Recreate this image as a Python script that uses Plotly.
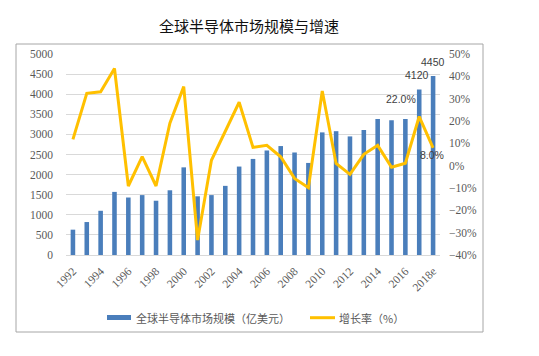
import plotly.graph_objects as go

years = ["1992", "1993", "1994", "1995", "1996", "1997", "1998", "1999", "2000",
         "2001", "2002", "2003", "2004", "2005", "2006", "2007", "2008", "2009",
         "2010", "2011", "2012", "2013", "2014", "2015", "2016", "2017", "2018e"]
market_size = [630, 820, 1100, 1570, 1430, 1490, 1350, 1610, 2180,
               1460, 1490, 1720, 2200, 2390, 2600, 2710, 2550, 2290,
               3050, 3080, 2950, 3110, 3380, 3350, 3380, 4120, 4450]
growth = [11.8, 32.4, 33.1, 43.5, -9.1, 4.0, -9.1, 19.0, 35.4,
          -33.3, 2.4, 15.5, 28.4, 8.2, 9.1, 4.0, -5.7, -9.9,
          33.4, 1.0, -3.9, 5.1, 9.1, -0.7, 1.1, 22.0, 8.0]
tick_years = years[::2]

title_text = "全球半导体市场规模与增速"
bar_name = "全球半导体市场规模（亿美元）"
line_name = "增长率（%）"

# page body has an 8px margin; lay out in viewport pixels and convert
OFF = 8
W, H = 539 - 2 * OFF, 356 - 2 * OFF
PX0, PX1, PY0, PY1 = 66, 440, 54, 255  # plot area in viewport px
L = PX0 - OFF
R = W - (PX1 - OFF)
T = PY0 - OFF
B = H - (PY1 - OFF)
pw, ph = PX1 - PX0, PY1 - PY0


def px(x):
    return (x - PX0) / pw


def py(y):
    return (PY1 - y) / ph


fig = go.Figure()
fig.add_trace(go.Bar(
    x=years, y=market_size, name=bar_name,
    marker=dict(color="#4A7EBB", line=dict(width=0)),
    yaxis="y", showlegend=False,
))
fig.add_trace(go.Scatter(
    x=years, y=growth, name=line_name, mode="lines",
    line=dict(color="#FFC000", width=3),
    yaxis="y2", showlegend=False,
))

label_font = dict(family="Liberation Sans", size=10.5, color="#404040")
i17, i18 = years.index("2017"), years.index("2018e")
for idx, xs, ys in [(i17, -2.4, 14.4), (i18, 0.3, 14.3)]:
    fig.add_annotation(x=idx, y=market_size[idx], xref="x", yref="y",
                       text=str(market_size[idx]), showarrow=False,
                       font=label_font, xshift=xs, yshift=ys)
for idx, xs, ys in [(i17, -18, 17.5), (i18, -1.5, -6.7)]:
    fig.add_annotation(x=idx, y=growth[idx], xref="x", yref="y2",
                       text=f"{growth[idx]:.1f}%", showarrow=False,
                       font=label_font, xshift=xs, yshift=ys)

# title
fig.add_annotation(x=px(248.5), y=py(25), xref="paper", yref="paper",
                   text=title_text, showarrow=False, xanchor="center", yanchor="middle",
                   font=dict(family="Noto Sans CJK SC", size=15, color="#111111"))

# outer border
fig.add_shape(type="rect", xref="paper", yref="paper",
              x0=px(16), x1=px(483), y0=py(332), y1=py(44),
              line=dict(color="#A6A6A6", width=1), fillcolor="rgba(0,0,0,0)", layer="below")

# legend (drawn manually to match swatch shapes)
leg_font = dict(family="Noto Sans CJK SC", size=11, color="#595959")
fig.add_shape(type="rect", xref="paper", yref="paper",
              x0=px(107), x1=px(131), y0=py(320), y1=py(315),
              line=dict(width=0), fillcolor="#4A7EBB")
fig.add_annotation(x=px(134), y=py(318), xref="paper", yref="paper", text=bar_name,
                   showarrow=False, xanchor="left", yanchor="middle", font=leg_font)
fig.add_shape(type="line", xref="paper", yref="paper",
              x0=px(310), x1=px(335), y0=py(317.7), y1=py(317.7),
              line=dict(color="#FFC000", width=3))
fig.add_annotation(x=px(336.5), y=py(318), xref="paper", yref="paper", text=line_name,
                   showarrow=False, xanchor="left", yanchor="middle", font=leg_font)

tick_font = dict(family="Liberation Serif", size=11.5, color="#595959")

fig.update_layout(
    width=W, height=H,
    margin=dict(l=L, r=R, t=T, b=B, pad=0, autoexpand=False),
    paper_bgcolor="white", plot_bgcolor="white",
    bargap=0.67,
    showlegend=False,
    xaxis=dict(type="category", categoryorder="array", categoryarray=years,
               tickvals=tick_years, ticktext=tick_years, tickangle=-45,
               tickfont=tick_font, showgrid=False, showline=True,
               linecolor="#D9D9D9", linewidth=1, ticks="", zeroline=False,
               range=[-0.5, len(years) - 0.5], ticklabelstandoff=4, automargin=False),
    yaxis=dict(range=[0, 5000], dtick=500, tick0=0, tickfont=tick_font,
               showgrid=True, gridcolor="#D9D9D9", gridwidth=1,
               zeroline=False, showline=False, ticks="", ticklabelstandoff=12,
               automargin=False),
    yaxis2=dict(range=[-40, 50], dtick=10, tick0=-40, overlaying="y", side="right",
                ticksuffix="%", tickfont=tick_font, showgrid=False, zeroline=False,
                showline=False, ticks="", ticklabelstandoff=8, automargin=False),
)

fig.write_html("out.html")
